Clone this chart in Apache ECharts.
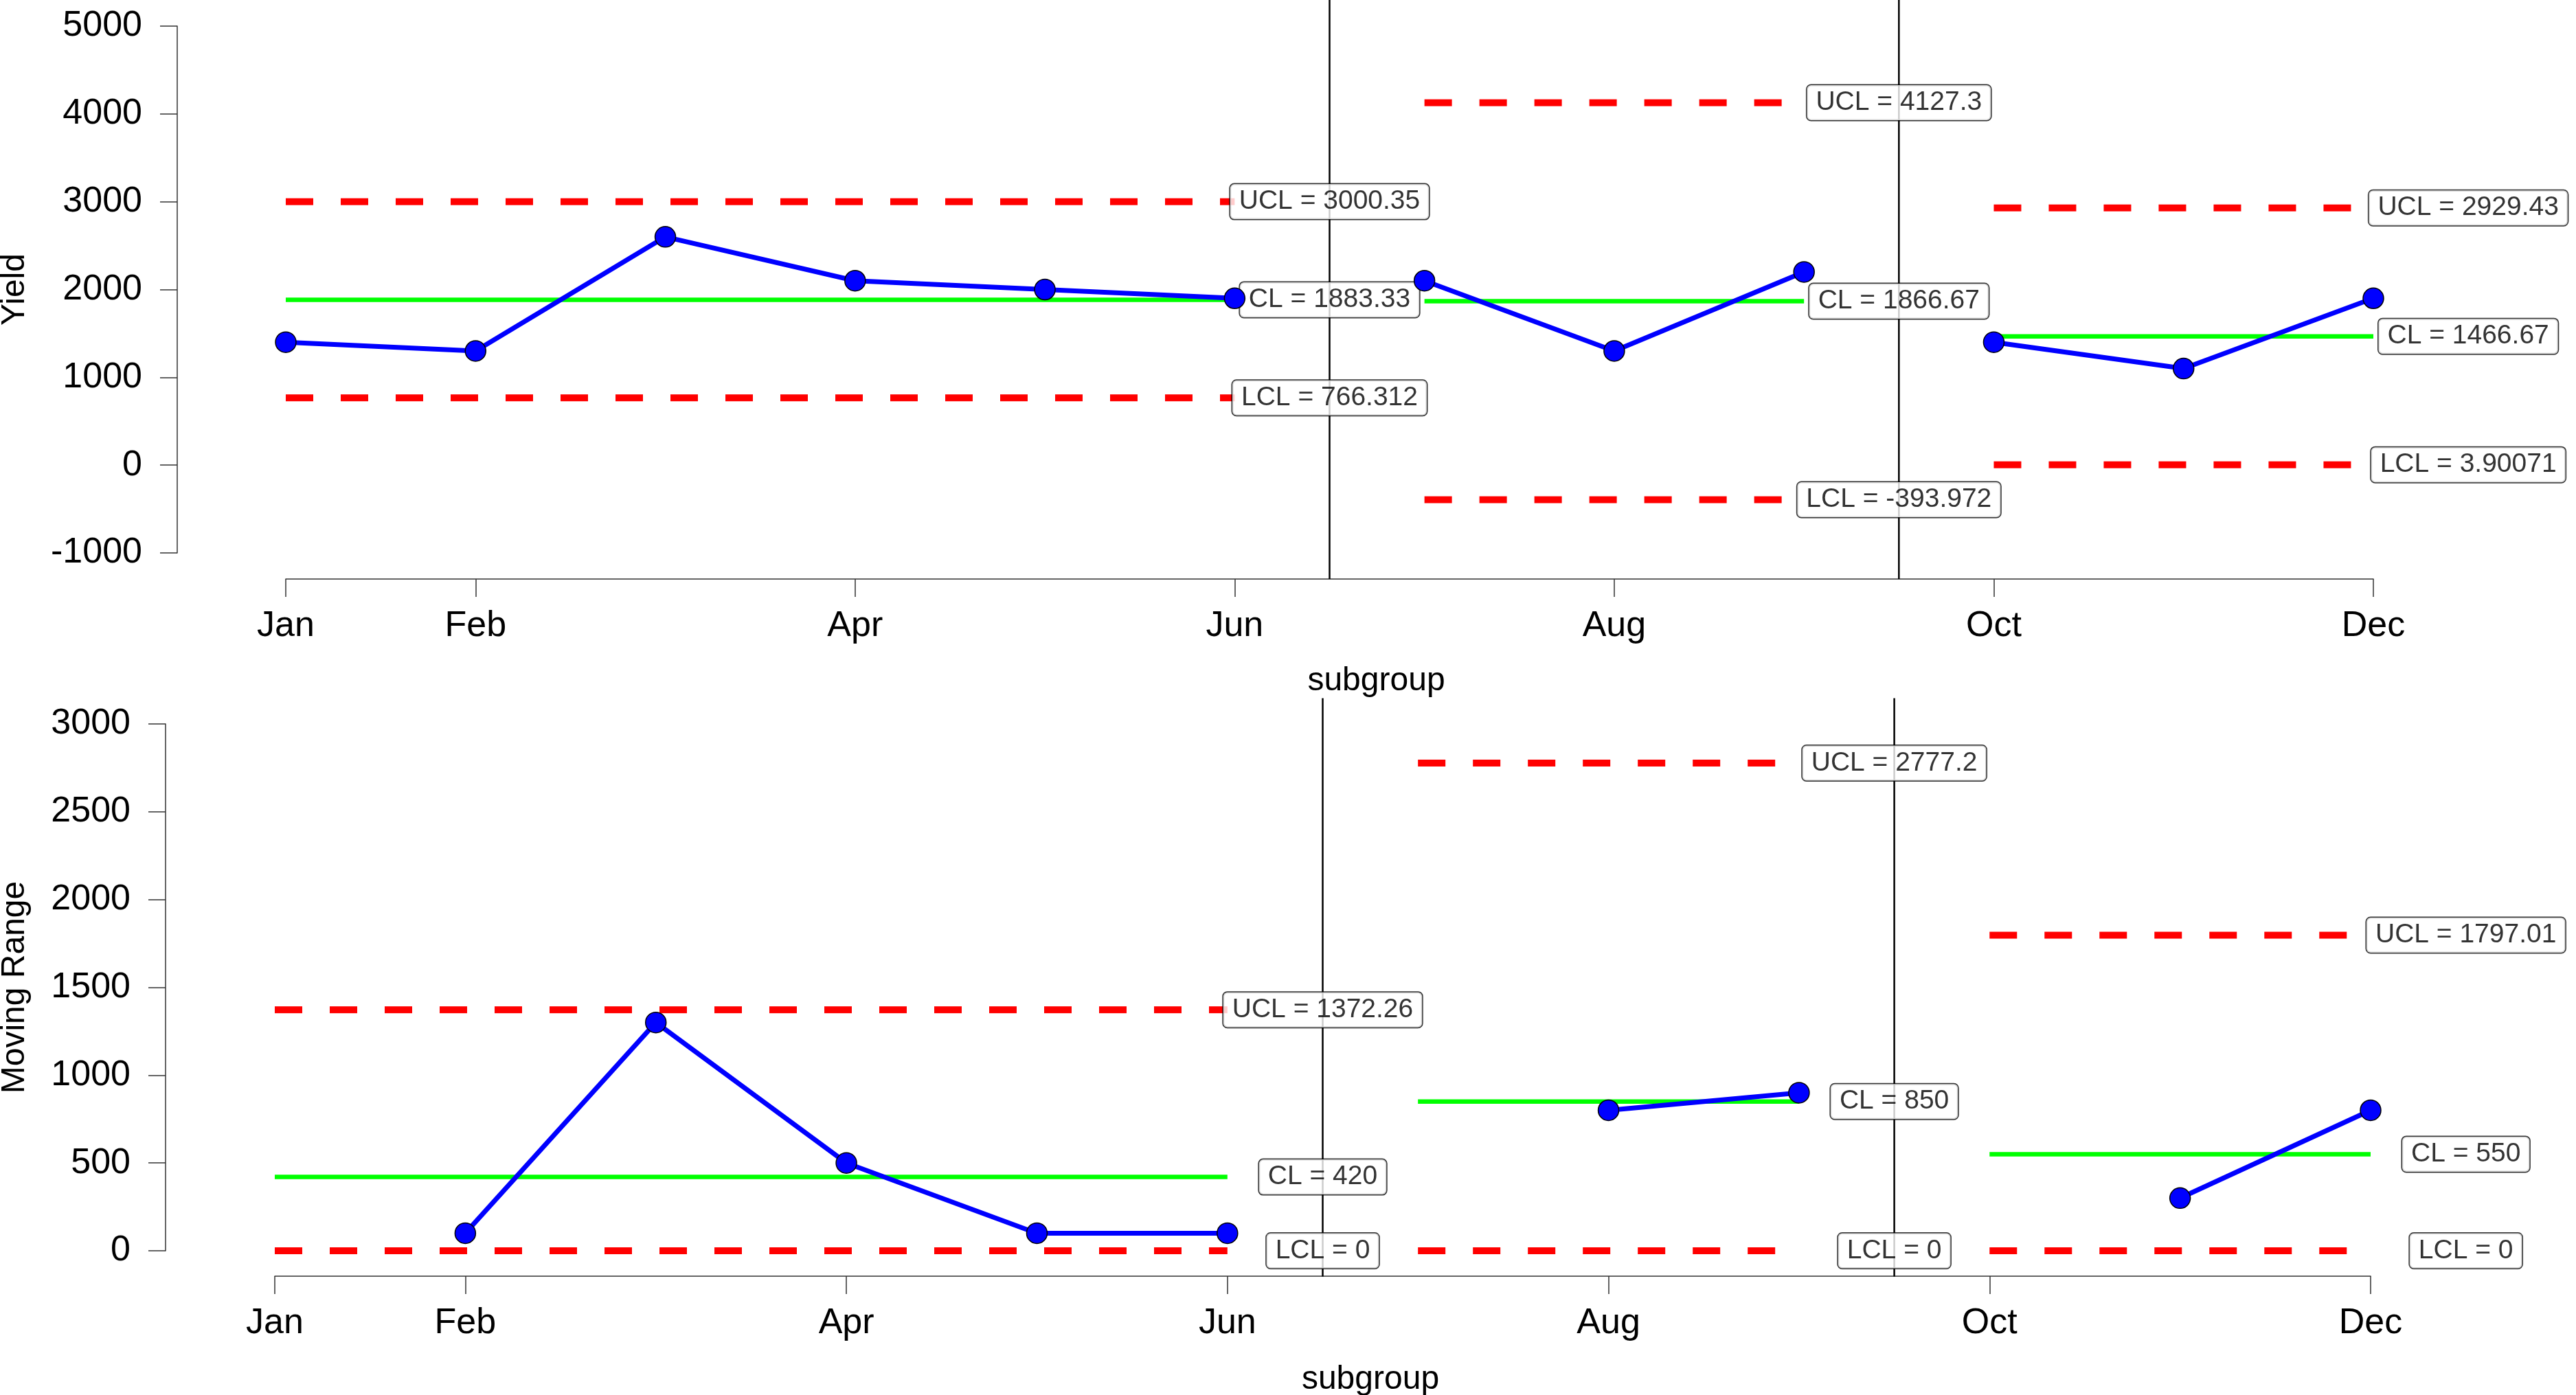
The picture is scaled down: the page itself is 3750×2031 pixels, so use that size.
<!DOCTYPE html>
<html>
<head>
<meta charset="utf-8">
<title>Yield / Moving Range chart</title>
<script src="https://cdn.jsdelivr.net/npm/echarts@6.0.0/dist/echarts.min.js"></script>
<style>
    html, body { margin: 0; padding: 0; background: #ffffff; }
    #chart { width: 3750px; height: 2031px; }
</style>
</head>
<body>
<div id="chart"></div>
<script>
var months = ["Jan", "Feb", "Mar", "Apr", "May", "Jun", "Jul", "Aug", "Sep", "Oct", "Nov", "Dec"];
var tickIndex = [0, 1, 3, 5, 7, 9, 11];

// phases (first / last subgroup index)
var phaseStart = [0, 6, 9];
var phaseEnd = [5, 8, 11];

var yieldData = [1400, 1300, 2600, 2100, 2000, 1900, 2100, 1300, 2200, 1400, 1100, 1900];
var yieldUCL = [3000.35, 4127.3, 2929.43];
var yieldCL = [1883.33, 1866.67, 1466.67];
var yieldLCL = [766.312, -393.972, 3.90071];
var yieldTicks = { min: -1000, max: 5000, step: 1000 };
var yieldFrame = [-1297, 5297];

var mrData = [null, 100, 1300, 500, 100, 100, null, 800, 900, null, 300, 800];
var mrUCL = [1372.26, 2777.2, 1797.01];
var mrCL = [420, 850, 550];
var mrLCL = [0, 0, 0];
var mrTicks = { min: 0, max: 3000, step: 500 };
var mrFrame = [-147, 3147];

(function(window, echarts) {

    var font = "Liberation Sans, Arial, Helvetica, sans-serif";
    var axisColor = "#333333";

    function limitLine(g, a, b, v, dashed) {
        return {
            type: "line",
            xAxisIndex: g,
            yAxisIndex: g,
            data: [[a, v], [b, v]],
            symbol: "none",
            clip: false,
            silent: true,
            z: 2,
            lineStyle: dashed ? {
                color: "#ff0000", width: 10, type: [40, 40], cap: "butt"
            } : {
                color: "#00ff00", width: 6.5
            }
        };
    }

    function buildPanel(g, values, ucl, cl, lcl, frame) {
        var list = [];
        // vertical lines between the phases
        for (var k = 0; k < phaseStart.length - 1; k++) {
            var sx = (phaseEnd[k] + phaseStart[k + 1]) / 2;
            list.push({
                type: "line",
                xAxisIndex: g,
                yAxisIndex: g,
                data: [[sx, frame[0]], [sx, frame[1]]],
                symbol: "none",
                clip: false,
                silent: true,
                z: 1,
                lineStyle: { color: "#000000", width: 2.5 }
            });
        }
        for (var p = 0; p < phaseStart.length; p++) {
            var a = phaseStart[p], b = phaseEnd[p];
            list.push(limitLine(g, a, b, ucl[p], true));
            list.push(limitLine(g, a, b, lcl[p], true));
            list.push(limitLine(g, a, b, cl[p], false));

            list.push({
                type: "scatter",
                xAxisIndex: g,
                yAxisIndex: g,
                clip: false,
                silent: true,
                symbolSize: 1,
                itemStyle: { color: "rgba(0,0,0,0)" },
                z: 3,
                data: [
                    { name: "UCL = " + ucl[p], value: [b + 0.5, ucl[p]] },
                    { name: "CL = " + cl[p], value: [b + 0.5, cl[p]] },
                    { name: "LCL = " + lcl[p], value: [b + 0.5, lcl[p]] }
                ],
                label: {
                    show: true,
                    position: "inside",
                    formatter: function(d) { return d.name; },
                    fontFamily: font,
                    fontSize: 39,
                    color: "#000000",
                    backgroundColor: "#ffffff",
                    borderColor: "#000000",
                    borderWidth: 1.5,
                    borderRadius: 6,
                    padding: [6, 13, 6, 13]
                }
            });

            var pts = [];
            for (var i = a; i <= b; i++) {
                if (values[i] !== null) pts.push([i, values[i]]);
            }
            list.push({
                type: "line",
                xAxisIndex: g,
                yAxisIndex: g,
                data: pts,
                clip: false,
                z: 4,
                symbol: "circle",
                symbolSize: 30,
                showAllSymbol: true,
                lineStyle: { color: "#0000ff", width: 7 },
                itemStyle: { color: "#0000ff", borderColor: "#000000", borderWidth: 1.5 }
            });
        }
        return list;
    }

    function xAxisOf(g, offset, nameGap, shift) {
        return {
            type: "value",
            gridIndex: g,
            position: "bottom",
            min: 0,
            max: months.length - 1,
            offset: offset,
            axisLine: { show: true, onZero: false, lineStyle: { color: axisColor, width: 1.5 } },
            axisTick: { show: true, length: 26, customValues: tickIndex, lineStyle: { color: axisColor, width: 1.5 } },
            axisLabel: {
                customValues: tickIndex,
                formatter: function(v) { return months[Math.round(v)]; },
                fontFamily: font, fontSize: 52, color: "#000000", margin: 43
            },
            splitLine: { show: false },
            name: "subgroup",
            nameLocation: "middle",
            nameGap: nameGap,
            nameTextStyle: { fontFamily: font, fontSize: 48, color: "#000000", padding: [0, 0, 0, shift] }
        };
    }

    function yAxisOf(g, ticks, offset, name, nameGap) {
        return {
            type: "value",
            gridIndex: g,
            position: "left",
            min: ticks.min,
            max: ticks.max,
            interval: ticks.step,
            offset: offset,
            axisLine: { show: true, onZero: false, lineStyle: { color: axisColor, width: 1.5 } },
            axisTick: { show: true, length: 25, lineStyle: { color: axisColor, width: 1.5 } },
            axisLabel: {
                formatter: function(v) { return String(v); },
                fontFamily: font, fontSize: 52, color: "#000000", margin: 51
            },
            splitLine: { show: false },
            name: name,
            nameLocation: "middle",
            nameGap: nameGap,
            nameTextStyle: { fontFamily: font, fontSize: 48, color: "#000000" }
        };
    }

    var chart = echarts.init(document.getElementById("chart"));
    var option = {
        animation: false,
        backgroundColor: "#ffffff",
        grid: [
            { left: 416, top: 38, width: 3039, height: 767, outerBoundsMode: "none", containLabel: false },
            { left: 400, top: 1054, width: 3051, height: 767, outerBoundsMode: "none", containLabel: false }
        ],
        xAxis: [
            xAxisOf(0, 38, 125, 136),
            xAxisOf(1, 37, 127, 139)
        ],
        yAxis: [
            yAxisOf(0, yieldTicks, 158, "Yield", 212),
            yAxisOf(1, mrTicks, 159, "Moving Range", 195)
        ],
        series: buildPanel(0, yieldData, yieldUCL, yieldCL, yieldLCL, yieldFrame)
            .concat(buildPanel(1, mrData, mrUCL, mrCL, mrLCL, mrFrame))
    };

    chart.setOption(option);

})(window, echarts);
</script>
</body>
</html>
